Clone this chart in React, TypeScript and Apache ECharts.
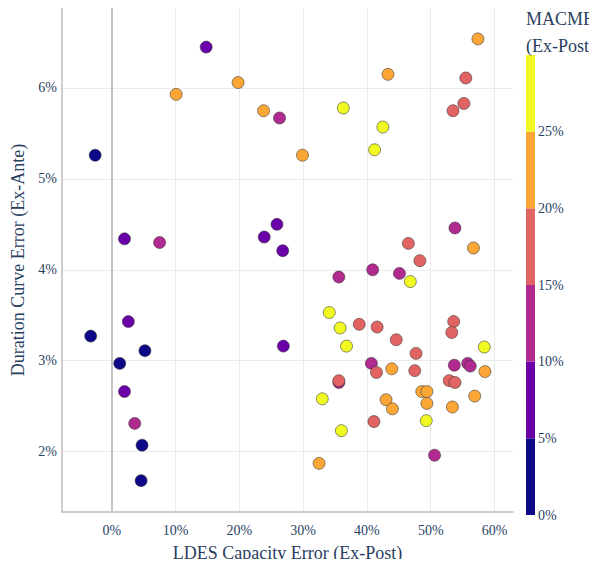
import React, { useEffect, useRef } from "react";
import * as echarts from "echarts";

// LDES Capacity Error (Ex-Post), %
const ldesError = [
  14.8, 10.1, -2.6, 2.0, 7.5, 19.8, 23.8, 26.3, 36.3, 29.9, 25.9, 23.9, 26.8,
  57.4, 43.3, 55.5, 55.2, 53.5, 42.5, 41.2, 53.8, 56.7, 46.5, 48.3,
  2.6, -3.3, 5.2, 1.25, 2.0, 3.6, 4.75, 4.6,
  35.6, 34.1, 35.8, 38.8, 26.9, 36.8, 35.6, 35.6, 33.0, 36.0, 32.5,
  40.9, 45.1, 46.8, 41.6, 44.6, 47.7, 53.6, 53.3, 58.4, 40.7, 41.5, 43.9,
  47.5, 53.7, 55.8, 56.2, 58.5, 52.9, 53.8, 48.6, 49.4, 49.4, 43.0, 44.0,
  53.4, 56.9, 41.1, 49.3, 50.6,
];
// Duration Curve Error (Ex-Ante), %
const durationError = [
  6.45, 5.93, 5.26, 4.34, 4.30, 6.06, 5.75, 5.67, 5.78, 5.26, 4.50, 4.36, 4.21,
  6.54, 6.15, 6.11, 5.83, 5.75, 5.57, 5.32, 4.46, 4.24, 4.29, 4.10,
  3.43, 3.27, 3.11, 2.97, 2.66, 2.31, 2.07, 1.68,
  3.92, 3.53, 3.36, 3.40, 3.16, 3.16, 2.76, 2.78, 2.58, 2.23, 1.87,
  4.00, 3.96, 3.87, 3.37, 3.23, 3.08, 3.43, 3.31, 3.15, 2.97, 2.87, 2.91,
  2.89, 2.95, 2.97, 2.94, 2.88, 2.78, 2.76, 2.66, 2.66, 2.53, 2.57, 2.47,
  2.49, 2.61, 2.33, 2.34, 1.96,
];
// MACME (Ex-Post), %
const macme = [
  8, 22, 2, 7, 12, 23, 21, 13, 27, 22, 8, 7, 9,
  24, 21, 18, 17, 16, 26, 28, 12, 23, 19, 17,
  8, 3, 4, 2, 9, 11, 1, 3,
  14, 26, 27, 18, 9, 28, 14, 16, 29, 26, 24,
  11, 13, 27, 17, 19, 16, 18, 17, 26, 12, 18, 21,
  19, 13, 10.5, 12, 22, 18, 16, 22, 23, 21, 24, 22,
  23, 24, 19, 28, 11,
];

const xTicks = [0, 10, 20, 30, 40, 50, 60];
const yTicks = [2, 3, 4, 5, 6];
const colorBins = [0, 5, 10, 15, 20, 25, 30];
const binColors = ["#0d0887", "#6a00a8", "#b12a90", "#e16462", "#fca636", "#f0f921"];

const FONT = "Liberation Serif";
const TEXT = "#2a3f5f";

export default function App() {
  const ref = useRef<HTMLDivElement>(null);
  useEffect(() => {
    if (!ref.current) return;
    const chart = echarts.init(ref.current, undefined, { renderer: "svg" });
    const data = ldesError.map((x, i) => [x, durationError[i], macme[i]]);
    const pieces = binColors.map((c, i) => ({ min: colorBins[i], max: colorBins[i + 1], color: c }));
    const barSeries = binColors.map((c, i) => ({
      type: "bar",
      xAxisIndex: 1,
      yAxisIndex: 1,
      stack: "cb",
      barWidth: "100%",
      silent: true,
      itemStyle: { color: c },
      data: [colorBins[i + 1] - colorBins[i]],
    }));
    chart.setOption({
      animation: false,
      textStyle: { fontFamily: FONT },
      title: {
        text: "MACME\n(Ex-Post)",
        left: 526,
        top: 5,
        padding: 0,
        textStyle: { fontFamily: FONT, fontSize: 18, fontWeight: "normal", color: TEXT, lineHeight: 27 },
      },
      grid: [
        { left: 62, right: 84, top: 8, bottom: 50 },
        { left: 526, width: 9, top: 55, bottom: 52 },
      ],
      visualMap: {
        type: "piecewise",
        show: false,
        dimension: 2,
        seriesIndex: 0,
        pieces,
      },
      xAxis: [
        {
          type: "value",
          gridIndex: 0,
          min: -7.8,
          max: 62.9,
          name: "LDES Capacity Error (Ex-Post)",
          nameLocation: "middle",
          nameGap: 32,
          nameTextStyle: { fontFamily: FONT, fontSize: 18, color: TEXT },
          axisLine: { show: true, onZero: false, lineStyle: { color: "#bdbdbd", width: 1.5 } },
          axisTick: { show: false, customValues: xTicks },
          axisLabel: {
            customValues: xTicks,
            formatter: (v: number) => `${v}%`,
            fontFamily: FONT,
            fontSize: 14,
            color: TEXT,
            margin: 11,
          },
          splitLine: { show: true, lineStyle: { color: "#ebebeb", width: 1 } },
        },
        { type: "category", gridIndex: 1, data: ["c"], show: false },
      ],
      yAxis: [
        {
          type: "value",
          gridIndex: 0,
          min: 1.335,
          max: 6.88,
          name: "Duration Curve Error (Ex-Ante)",
          nameLocation: "middle",
          nameGap: 33,
          nameTextStyle: { fontFamily: FONT, fontSize: 18, color: TEXT },
          axisLine: { show: true, onZero: false, lineStyle: { color: "#bdbdbd", width: 1.5 } },
          axisTick: { show: false, customValues: yTicks },
          axisLabel: {
            customValues: yTicks,
            formatter: (v: number) => `${v}%`,
            fontFamily: FONT,
            fontSize: 14,
            color: TEXT,
            margin: 5,
          },
          splitLine: { show: true, lineStyle: { color: "#ebebeb", width: 1 } },
        },
        {
          type: "value",
          gridIndex: 1,
          min: 0,
          max: 30,
          interval: 5,
          position: "right",
          axisLine: { show: false },
          axisTick: { show: false },
          splitLine: { show: false },
          axisLabel: {
            showMaxLabel: false,
            formatter: (v: number) => (v >= 30 ? "" : `${v}%`),
            fontFamily: FONT,
            fontSize: 14,
            color: TEXT,
            margin: 3,
          },
        },
      ],
      series: [
        {
          type: "scatter",
          xAxisIndex: 0,
          yAxisIndex: 0,
          symbolSize: 12,
          itemStyle: { borderColor: "rgba(50,50,50,0.55)", borderWidth: 1, opacity: 1 },
          data,
          markLine: {
            silent: true,
            symbol: "none",
            label: { show: false },
            lineStyle: { color: "#c4c4c4", width: 2, type: "solid" },
            data: [{ xAxis: 0 }],
          },
        },
        ...barSeries,
      ],
    });
    return () => chart.dispose();
  }, []);
  return <div ref={ref} style={{ width: 597, height: 567, margin: -8 }} />;
}
